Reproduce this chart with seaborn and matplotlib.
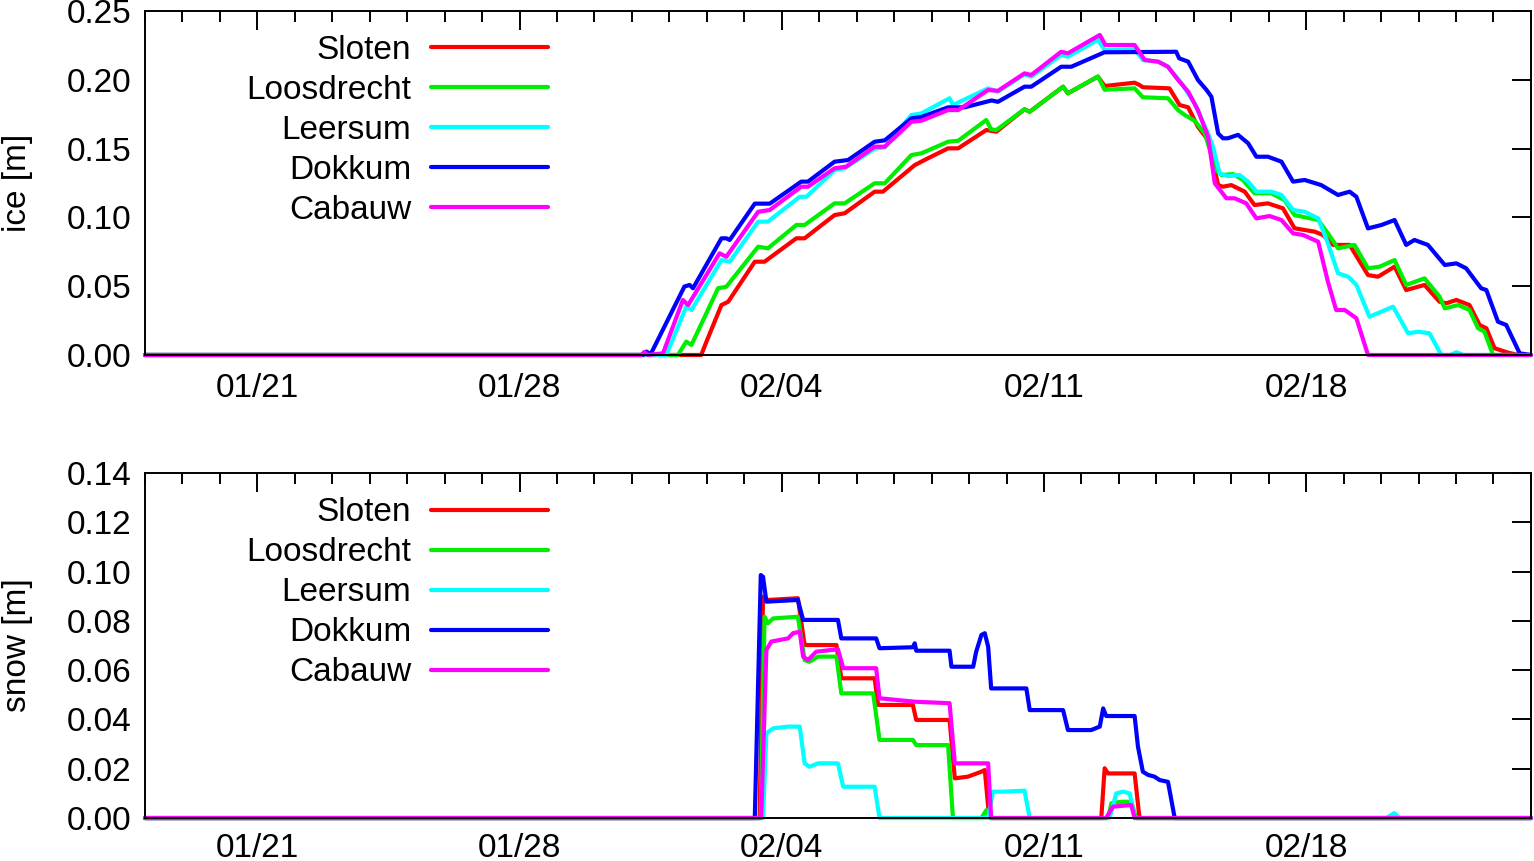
import pandas as pd
import numpy as np
import matplotlib
matplotlib.use("Agg")
import matplotlib.pyplot as plt
import matplotlib.dates as mdates
import seaborn as sns

# --- data: days since 2012-01-18, ice / snow thickness in m ---
START = pd.Timestamp("2012-01-18")
END = pd.Timestamp("2012-02-24")
stations = ["Sloten", "Loosdrecht", "Leersum", "Dokkum", "Cabauw"]
colors = ["#ff0000", "#00ee00", "#00ffff", "#0000ff", "#ff00ff"]

ice_days_sloten = [0, 14.85, 14.99, 15.39, 15.57, 16.28, 16.54, 17.39, 17.61, 18.41,
                   18.68, 19.48, 19.70, 20.55, 20.81, 21.44, 21.71, 22.46, 22.73, 23.48,
                   23.62, 24.51, 24.64, 25.44, 25.62, 26.42, 26.55, 26.64, 27.35, 27.62,
                   27.85, 28.11, 28.38, 28.65, 28.78, 29.00, 29.36, 29.62, 29.98, 30.38,
                   30.69, 31.23, 31.45, 31.72, 32.16, 32.65, 32.92, 33.36, 33.67, 34.16,
                   34.56, 34.74, 35.01, 35.36, 35.63, 35.81, 36.03, 36.39, 36.66, 37]
ice_sloten = [0, 0, 0.0097, 0.0363, 0.0387, 0.0678, 0.0678, 0.0848, 0.0848, 0.1017,
              0.103, 0.1187, 0.1187, 0.138, 0.1417, 0.1502, 0.1502, 0.1635, 0.1623, 0.1786,
              0.1768, 0.195, 0.1902, 0.2023, 0.1955, 0.1979, 0.1962, 0.1946, 0.1938, 0.1817,
              0.18, 0.1659, 0.1562, 0.1235, 0.1223, 0.1235, 0.1187, 0.109, 0.1102, 0.1066,
              0.0921, 0.0896, 0.0872, 0.080, 0.080, 0.0581, 0.0569, 0.0642, 0.0472, 0.0509,
              0.0387, 0.0376, 0.040, 0.0363, 0.0218, 0.0194, 0.0049, 0.0017, 0, 0]

ice_days_loosdrecht = [0, 14.23, 14.45, 14.59, 15.30, 15.52, 16.37, 16.63, 17.39, 17.61,
                       18.41, 18.68, 19.48, 19.75, 20.46, 20.73, 21.44, 21.71, 22.46, 22.59,
                       22.73, 23.48, 23.62, 24.51, 24.64, 25.44, 25.62, 26.42, 26.64, 27.31,
                       27.58, 27.76, 28.02, 28.29, 28.60, 28.74, 29.05, 29.31, 29.62, 30.07,
                       30.42, 30.69, 31.32, 31.58, 31.85, 32.29, 32.65, 32.96, 33.36, 33.67,
                       34.16, 34.56, 34.70, 35.06, 35.36, 35.59, 35.76, 35.99, 37]
ice_loosdrecht = [0, 0, 0.0097, 0.0073, 0.0485, 0.0496, 0.0787, 0.0775, 0.0945, 0.0945,
                  0.1102, 0.1102, 0.1248, 0.1248, 0.1453, 0.1466, 0.155, 0.1557, 0.1708, 0.164,
                  0.1635, 0.1786, 0.1768, 0.195, 0.1902, 0.2025, 0.1928, 0.1938, 0.1873, 0.1866,
                  0.178, 0.1744, 0.1703, 0.1611, 0.1344, 0.1308, 0.1315, 0.1272, 0.1175, 0.1175,
                  0.1126, 0.1017, 0.0981, 0.0884, 0.0775, 0.080, 0.063, 0.0642, 0.069, 0.0509,
                  0.0557, 0.0424, 0.0339, 0.0363, 0.0327, 0.0194, 0.0169, 0, 0]

ice_days_leersum = [0, 13.92, 14.45, 14.59, 15.39, 15.61, 16.37, 16.63, 17.48, 17.66,
                    18.41, 18.68, 19.48, 19.75, 20.46, 20.73, 21.48, 21.57, 22.51, 22.77,
                    23.48, 23.66, 24.46, 24.64, 25.44, 25.62, 26.42, 26.64, 27.05, 27.31,
                    27.67, 28.02, 28.38, 28.51, 28.69, 28.91, 29.22, 29.45, 29.67, 30.07,
                    30.34, 30.65, 30.96, 31.32, 31.58, 31.85, 32.12, 32.34, 32.69, 33.01,
                    33.32, 33.72, 33.99, 34.29, 34.61, 34.85, 35.01, 35.2, 37]
ice_leersum = [0, 0, 0.0351, 0.0327, 0.069, 0.0678, 0.0969, 0.0969, 0.115, 0.115,
               0.1344, 0.1357, 0.150, 0.151, 0.1744, 0.1756, 0.1866, 0.1817, 0.1938, 0.1914,
               0.204, 0.2023, 0.218, 0.2168, 0.229, 0.2217, 0.2222, 0.2144, 0.2132, 0.2095,
               0.1975, 0.1829, 0.161, 0.1514, 0.132, 0.130, 0.1308, 0.126, 0.1187, 0.1187,
               0.1163, 0.1054, 0.1041, 0.0993, 0.0812, 0.0594, 0.0569, 0.0509, 0.0278, 0.0315,
               0.0351, 0.0158, 0.0169, 0.0158, 0, 0, 0.002, 0, 0]

ice_days_dokkum = [0, 13.30, 13.39, 13.50, 14.40, 14.54, 14.63, 15.39, 15.52, 15.61,
                   16.28, 16.68, 17.52, 17.70, 18.41, 18.77, 19.48, 19.75, 20.46, 20.73,
                   21.44, 21.88, 22.60, 22.77, 23.48, 23.66, 24.46, 24.73, 25.53, 25.61,
                   27.53, 27.61, 27.85, 28.11, 28.34, 28.47, 28.65, 28.78, 28.91, 29.18,
                   29.45, 29.67, 29.98, 30.34, 30.65, 30.96, 31.40, 31.85, 32.16, 32.34,
                   32.65, 33.01, 33.36, 33.67, 33.89, 34.25, 34.70, 35.01, 35.27, 35.67,
                   35.81, 36.12, 36.34, 36.70, 37]
ice_dokkum = [0, 0, 0.0025, 0.0005, 0.0497, 0.0509, 0.0485, 0.0848, 0.0848, 0.0836,
              0.110, 0.110, 0.126, 0.126, 0.1405, 0.1417, 0.155, 0.156, 0.172, 0.173,
              0.180, 0.180, 0.185, 0.184, 0.195, 0.195, 0.2095, 0.2095, 0.219, 0.220,
              0.2204, 0.2156, 0.2132, 0.1999, 0.1926, 0.1877, 0.161, 0.1575, 0.1575, 0.160,
              0.1539, 0.1441, 0.1441, 0.1405, 0.126, 0.1272, 0.1235, 0.1163, 0.1187, 0.115,
              0.092, 0.0945, 0.0981, 0.080, 0.0836, 0.080, 0.0654, 0.0666, 0.063, 0.0485,
              0.0472, 0.0242, 0.0218, 0.0012, 0]

ice_days_cabauw = [0, 13.25, 13.33, 13.42, 13.83, 14.36, 14.50, 15.34, 15.52, 16.37,
                   16.68, 17.52, 17.70, 18.41, 18.72, 19.48, 19.75, 20.46, 20.73, 21.44,
                   21.71, 22.51, 22.77, 23.48, 23.66, 24.46, 24.64, 25.49, 25.64, 26.42,
                   26.69, 27.05, 27.31, 27.58, 27.85, 28.11, 28.38, 28.56, 28.87, 29.09,
                   29.40, 29.67, 30.02, 30.34, 30.65, 30.92, 31.32, 31.58, 31.80, 32.03,
                   32.34, 32.65, 37]
ice_cabauw = [0, 0, 0.0022, 0, 0.0012, 0.040, 0.0363, 0.0739, 0.0714, 0.1041,
              0.1054, 0.1223, 0.1223, 0.1357, 0.1369, 0.1514, 0.1514, 0.1695, 0.1703, 0.178,
              0.178, 0.1926, 0.192, 0.2047, 0.2035, 0.2204, 0.2193, 0.2326, 0.2253, 0.2253,
              0.2144, 0.2132, 0.2095, 0.1999, 0.1914, 0.178, 0.1587, 0.1248, 0.1139, 0.1139,
              0.1102, 0.0993, 0.101, 0.0981, 0.0884, 0.0872, 0.0823, 0.0533, 0.0327, 0.0327,
              0.0267, 0, 0]

snow_days_sloten = [0, 16.41, 16.50, 16.63, 17.43, 17.61, 18.46, 18.59, 19.48, 19.57,
                    20.50, 20.59, 21.48, 21.62, 21.97, 22.33, 22.42, 22.51, 22.59, 25.53,
                    25.62, 25.71, 26.42, 26.55, 37]
snow_sloten = [0, 0, 0.0898, 0.0885, 0.0892, 0.0702, 0.0702, 0.0567, 0.0567, 0.0459,
               0.0459, 0.0398, 0.0398, 0.0161, 0.0168, 0.0188, 0.0195, 0.0046, 0, 0,
               0.0202, 0.0181, 0.0181, 0, 0]

snow_days_loosdrecht = [0, 16.44, 16.54, 16.63, 16.77, 17.43, 17.61, 17.74, 17.97, 18.46,
                        18.59, 19.44, 19.61, 20.50, 20.59, 21.44, 21.57, 22.33, 22.46, 22.54,
                        25.71, 25.80, 26.07, 26.33, 26.46, 37]
snow_loosdrecht = [0, 0, 0.0817, 0.079, 0.081, 0.0817, 0.0641, 0.0634, 0.0655, 0.0655,
                   0.0506, 0.0506, 0.0317, 0.0317, 0.0296, 0.0296, 0, 0, 0.0032, 0,
                   0, 0.006, 0.0066, 0.0066, 0, 0]

snow_days_leersum = [0, 16.50, 16.59, 16.77, 17.17, 17.48, 17.61, 17.74, 17.97, 18.50,
                     18.64, 19.48, 19.61, 22.51, 22.64, 22.91, 23.48, 23.62, 25.75, 25.93,
                     26.11, 26.29, 26.42, 33.14, 33.35, 33.49, 37]
snow_leersum = [0, 0, 0.0344, 0.0364, 0.0371, 0.0371, 0.0222, 0.0208, 0.0222, 0.0222,
                0.0127, 0.0127, 0, 0, 0.0107, 0.0107, 0.0111, 0, 0, 0.010,
                0.0107, 0.010, 0, 0, 0.002, 0, 0]

snow_days_dokkum = [0, 16.28, 16.44, 16.50, 16.59, 17.43, 17.57, 18.50, 18.59, 19.52,
                    19.61, 20.50, 20.55, 20.59, 21.48, 21.53, 22.11, 22.19, 22.33, 22.42,
                    22.51, 22.59, 23.53, 23.62, 24.51, 24.64, 25.26, 25.49, 25.58, 25.66,
                    26.42, 26.51, 26.64, 26.78, 26.95, 27.09, 27.31, 27.49, 37]
snow_dokkum = [0, 0, 0.0986, 0.0979, 0.0878, 0.0885, 0.0804, 0.0804, 0.0729, 0.0729,
               0.0689, 0.0693, 0.0709, 0.0679, 0.0679, 0.0614, 0.0614, 0.0675, 0.0743, 0.075,
               0.0695, 0.0526, 0.0526, 0.0438, 0.0438, 0.0357, 0.0357, 0.0371, 0.0445, 0.0414,
               0.0414, 0.0289, 0.0188, 0.0175, 0.0168, 0.0154, 0.0147, 0, 0]

snow_days_cabauw = [0, 16.45, 16.59, 16.72, 17.17, 17.30, 17.48, 17.57, 17.70, 17.92,
                    18.50, 18.64, 19.52, 19.61, 20.55, 21.48, 21.62, 22.51, 22.59, 25.66,
                    25.84, 26.33, 26.42, 37]
snow_cabauw = [0, 0, 0.0682, 0.0716, 0.0729, 0.075, 0.0756, 0.0655, 0.0641, 0.0675,
               0.0685, 0.0608, 0.0608, 0.0486, 0.0472, 0.0466, 0.0222, 0.0222, 0, 0,
               0.0046, 0.0053, 0, 0]

ice_series = [(ice_days_sloten, ice_sloten), (ice_days_loosdrecht, ice_loosdrecht),
              (ice_days_leersum, ice_leersum), (ice_days_dokkum, ice_dokkum),
              (ice_days_cabauw, ice_cabauw)]
snow_series = [(snow_days_sloten, snow_sloten), (snow_days_loosdrecht, snow_loosdrecht),
               (snow_days_leersum, snow_leersum), (snow_days_dokkum, snow_dokkum),
               (snow_days_cabauw, snow_cabauw)]


def build_frame(series, col):
    parts = []
    for name, (days, vals) in zip(stations, series):
        parts.append(pd.DataFrame({
            "time": START + pd.to_timedelta(days, unit="D"),
            col: vals,
            "station": name,
        }))
    return pd.concat(parts, ignore_index=True)


df_ice = build_frame(ice_series, "ice")
df_snow = build_frame(snow_series, "snow")

# --- style ---
sns.set_style("white")
plt.rcParams["font.family"] = ["Liberation Sans", "DejaVu Sans"]
plt.rcParams["text.color"] = "black"
plt.rcParams["axes.labelcolor"] = "black"
FS = 24

fig = plt.figure(figsize=(15.34, 8.61), dpi=100)
ax1 = fig.add_axes([0.0945, 0.5877, 0.9035, 0.3995])
ax2 = fig.add_axes([0.0945, 0.0499, 0.9035, 0.4007])


def style_axes(ax, data, col, ymax, ystep, label, xpad):
    sns.lineplot(data=data, x="time", y=col,
                 hue="station", hue_order=stations, palette=colors,
                 estimator=None, sort=False, lw=3.0, clip_on=False,
                 legend=False, ax=ax)
    ax.set_xlim(START, END)
    ax.set_ylim(0, ymax)
    ax.set_yticks(np.arange(0, ymax + ystep / 2, ystep))
    ax.yaxis.set_major_formatter(plt.FormatStrFormatter("%.2f"))
    ax.set_xticks(pd.date_range("2012-01-21", "2012-02-18", freq="7D"))
    ax.xaxis.set_major_formatter(mdates.DateFormatter("%m/%d"))
    ax.xaxis.set_minor_locator(mdates.DayLocator())
    ax.tick_params(which="both", direction="in", top=True, right=True,
                   width=1.4, colors="black", labelsize=FS)
    ax.tick_params(which="major", length=14)
    ax.tick_params(which="minor", length=8)
    ax.tick_params(axis="x", pad=xpad)
    ax.tick_params(axis="y", pad=10)
    for sp in ax.spines.values():
        sp.set_linewidth(1.4)
        sp.set_color("black")
    ax.set_xlabel("")
    ax.set_ylabel(label, fontsize=FS)
    ax.yaxis.set_label_coords(-0.081, 0.5)
    ax.legend(ax.lines[:5], stations, loc="upper left", bbox_to_anchor=(0.073, 0.93),
              frameon=False, markerfirst=False, fontsize=FS, handlelength=3.5,
              handletextpad=0.6, labelspacing=0.27, borderpad=0, borderaxespad=0)


style_axes(ax1, df_ice, "ice", 0.25, 0.05, "ice [m]", 13)
style_axes(ax2, df_snow, "snow", 0.14, 0.02, "snow [m]", 10.5)

fig.savefig("out.png", dpi=100)
